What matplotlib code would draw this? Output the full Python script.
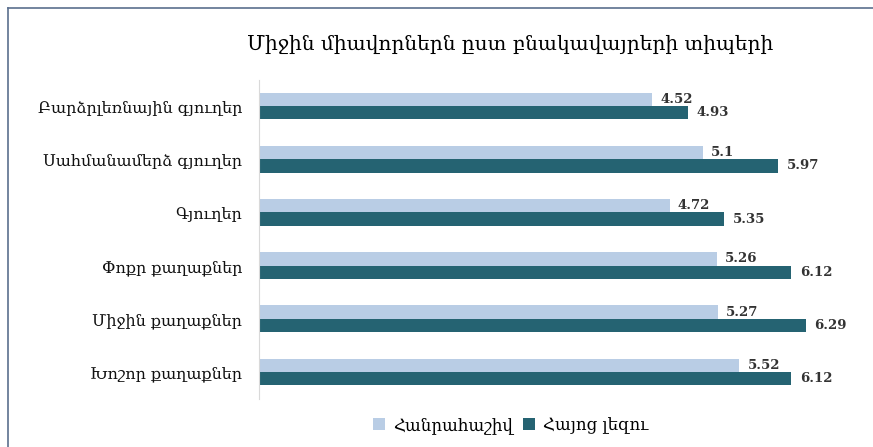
import matplotlib
matplotlib.use('Agg')
import matplotlib.pyplot as plt
import numpy as np

# данные
categories = ['Բարձրլեռնային գյուղեր', 'Սահմանամերձ գյուղեր', 'Գյուղեր',
              'Փոքր քաղաքներ', 'Միջին քաղաքներ', 'Խոշոր քաղաքներ']
algebra = [4.52, 5.1, 4.72, 5.26, 5.27, 5.52]
armenian = [4.93, 5.97, 5.35, 6.12, 6.29, 6.12]
series_names = ['Հանրահաշիվ', 'Հայոց լեզու']

plt.rcParams['font.family'] = ['DejaVu Serif', 'DejaVu Sans']

c_light = '#B9CDE5'
c_dark = '#256372'

fig = plt.figure(figsize=(8.73, 4.47), dpi=100)
ax = fig.add_axes([0.2967, 0.1085, 0.6976, 0.7136])

y = np.arange(len(categories))
h = 0.25
b1 = ax.barh(y - h/2, algebra, height=h, color=c_light, label=series_names[0])
b2 = ax.barh(y + h/2, armenian, height=h, color=c_dark, label=series_names[1])

for bars in (b1, b2):
    for rect in bars:
        w = rect.get_width()
        ax.annotate(f'{w:g}', (w, rect.get_y() + rect.get_height()/2),
                    xytext=(6, 0), textcoords='offset points',
                    va='center', ha='left', fontsize=9.5, color='#333333',
                    fontweight='bold')

ax.set_xlim(0, 7)
ax.set_ylim(len(categories) - 0.5, -0.5)
ax.set_yticks(y)
ax.set_yticklabels(categories, fontsize=11.5, color='#111111')
ax.tick_params(axis='y', length=0, pad=12)
ax.set_xticks([])
for s in ['top', 'right', 'bottom']:
    ax.spines[s].set_visible(False)
ax.spines['left'].set_color('#D9D9D9')

fig.text(0.584, 0.90, 'Միջին միավորներն ըստ բնակավայրերի տիպերի',
         ha='center', va='center', fontsize=14.5)

fig.legend(loc='center', bbox_to_anchor=(0.585, 0.048), ncol=2, frameon=False,
           fontsize=12, handlelength=0.7, handleheight=0.7, handletextpad=0.5,
           columnspacing=0.6)

# рамка
fig.add_artist(plt.Line2D([0.009, 1], [0.982, 0.982], color='#5B6F8E', lw=1.2))
fig.add_artist(plt.Line2D([0.009, 0.009], [0, 0.982], color='#5B6F8E', lw=1.2))

fig.savefig('out.png', dpi=100)
